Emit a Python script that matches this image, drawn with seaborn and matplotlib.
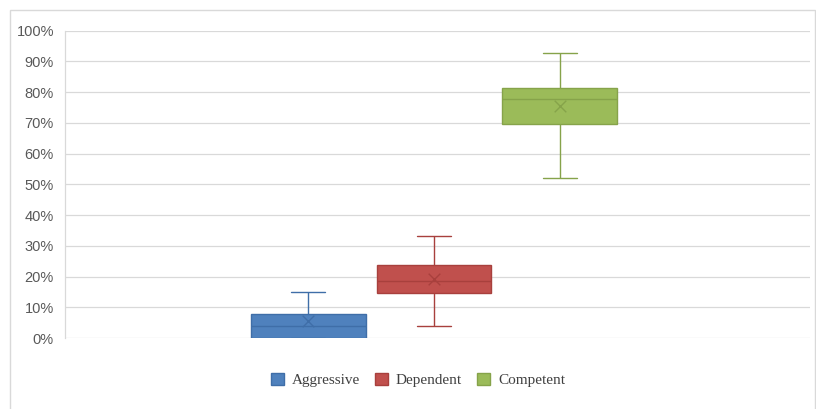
import numpy as np
import pandas as pd
import matplotlib
matplotlib.use("Agg")
import matplotlib.pyplot as plt
import seaborn as sns
from matplotlib.patches import Patch, Rectangle
from matplotlib.ticker import PercentFormatter, MultipleLocator

# ---- data (five-number summaries, fractions) ----
series = ["Aggressive", "Dependent", "Competent"]
aggressive = [0.000, 0.000, 0.040, 0.077, 0.150]   # min, Q1, median, Q3, max
dependent = [0.039, 0.148, 0.185, 0.236, 0.333]
competent = [0.522, 0.696, 0.779, 0.815, 0.927]
means = [0.055, 0.193, 0.756]

fills = ["#4F81BD", "#C0504D", "#9BBB59"]
edges = ["#3F6EA8", "#A8403D", "#86A34A"]

rows = []
for name, vals in zip(series, [aggressive, dependent, competent]):
    for v in vals:
        rows.append({"group": "", "series": name, "value": v})
df = pd.DataFrame(rows)

sns.set_theme(style="white")
plt.rcParams["font.family"] = ["Liberation Sans", "DejaVu Sans"]

W, H = 816, 409
fig = plt.figure(figsize=(W / 100, H / 100), dpi=100)
left, right, top, bottom = 65, 810, 30.7, 338
ax = fig.add_axes([left / W, 1 - bottom / H, (right - left) / W, (bottom - top) / H])

for name, fc, ec in zip(series, fills, edges):
    sns.boxplot(data=df[df["series"] == name], x="group", y="value", hue="series",
                hue_order=series, palette=dict(zip(series, fills)), dodge=True,
                width=0.507, gap=0.087, whis=(0, 100), linecolor=ec, linewidth=1.0,
                saturation=1, legend=False, showfliers=False, ax=ax)

# box centres and widths from the drawn patches
centres, widths = [], []
for patch in ax.patches:
    verts = patch.get_path().vertices
    centres.append((verts[:, 0].min() + verts[:, 0].max()) / 2)
    widths.append(verts[:, 0].max() - verts[:, 0].min())

# narrow the caps (horizontal lines shorter than the box width)
for line in ax.lines:
    xd, yd = np.asarray(line.get_xdata(), float), np.asarray(line.get_ydata(), float)
    if len(xd) == 2 and yd[0] == yd[1] and xd[0] != xd[1]:
        w = abs(xd[1] - xd[0])
        if w < 0.9 * widths[0]:
            c = xd.mean()
            half = widths[0] * 0.145
            line.set_xdata([c - half, c + half])

for cx, m, ec in zip(centres, means, edges):
    ax.scatter([cx], [m], marker="x", s=70, color=ec, linewidths=1.0, zorder=5)

ax.set_ylim(0, 1)
ax.set_xlim(-0.5 + 0.0047, 0.5 + 0.0047)
ax.yaxis.set_major_locator(MultipleLocator(0.1))
ax.yaxis.set_major_formatter(PercentFormatter(1.0, decimals=0))
ax.grid(axis="y", color="#D9D9D9", linewidth=0.9)
ax.set_axisbelow(True)
ax.set_xlabel("")
ax.set_ylabel("")
ax.set_xticks([])
ax.tick_params(axis="y", length=0, pad=8, labelsize=10.5, labelcolor="#595959")
for s in ["top", "right", "bottom"]:
    ax.spines[s].set_visible(False)
ax.spines["left"].set_color("#D9D9D9")
ax.spines["left"].set_linewidth(0.9)

handles = [Patch(facecolor=fc, edgecolor=ec, label=n) for n, fc, ec in zip(series, fills, edges)]
fig.legend(handles=handles, loc="center", bbox_to_anchor=(418 / W, 1 - 380 / H), ncol=3,
           frameon=False, prop={"family": "Liberation Serif", "size": 11},
           handlelength=0.85, handleheight=0.85, handletextpad=0.5, columnspacing=1.0,
           labelcolor="#404040")

fig.add_artist(Rectangle((10 / W, -0.01), (815 - 10) / W, 1 - 10 / H + 0.01,
                         transform=fig.transFigure, fill=False, edgecolor="#D9D9D9", linewidth=1))

fig.savefig("out.png", dpi=100, facecolor="white")
